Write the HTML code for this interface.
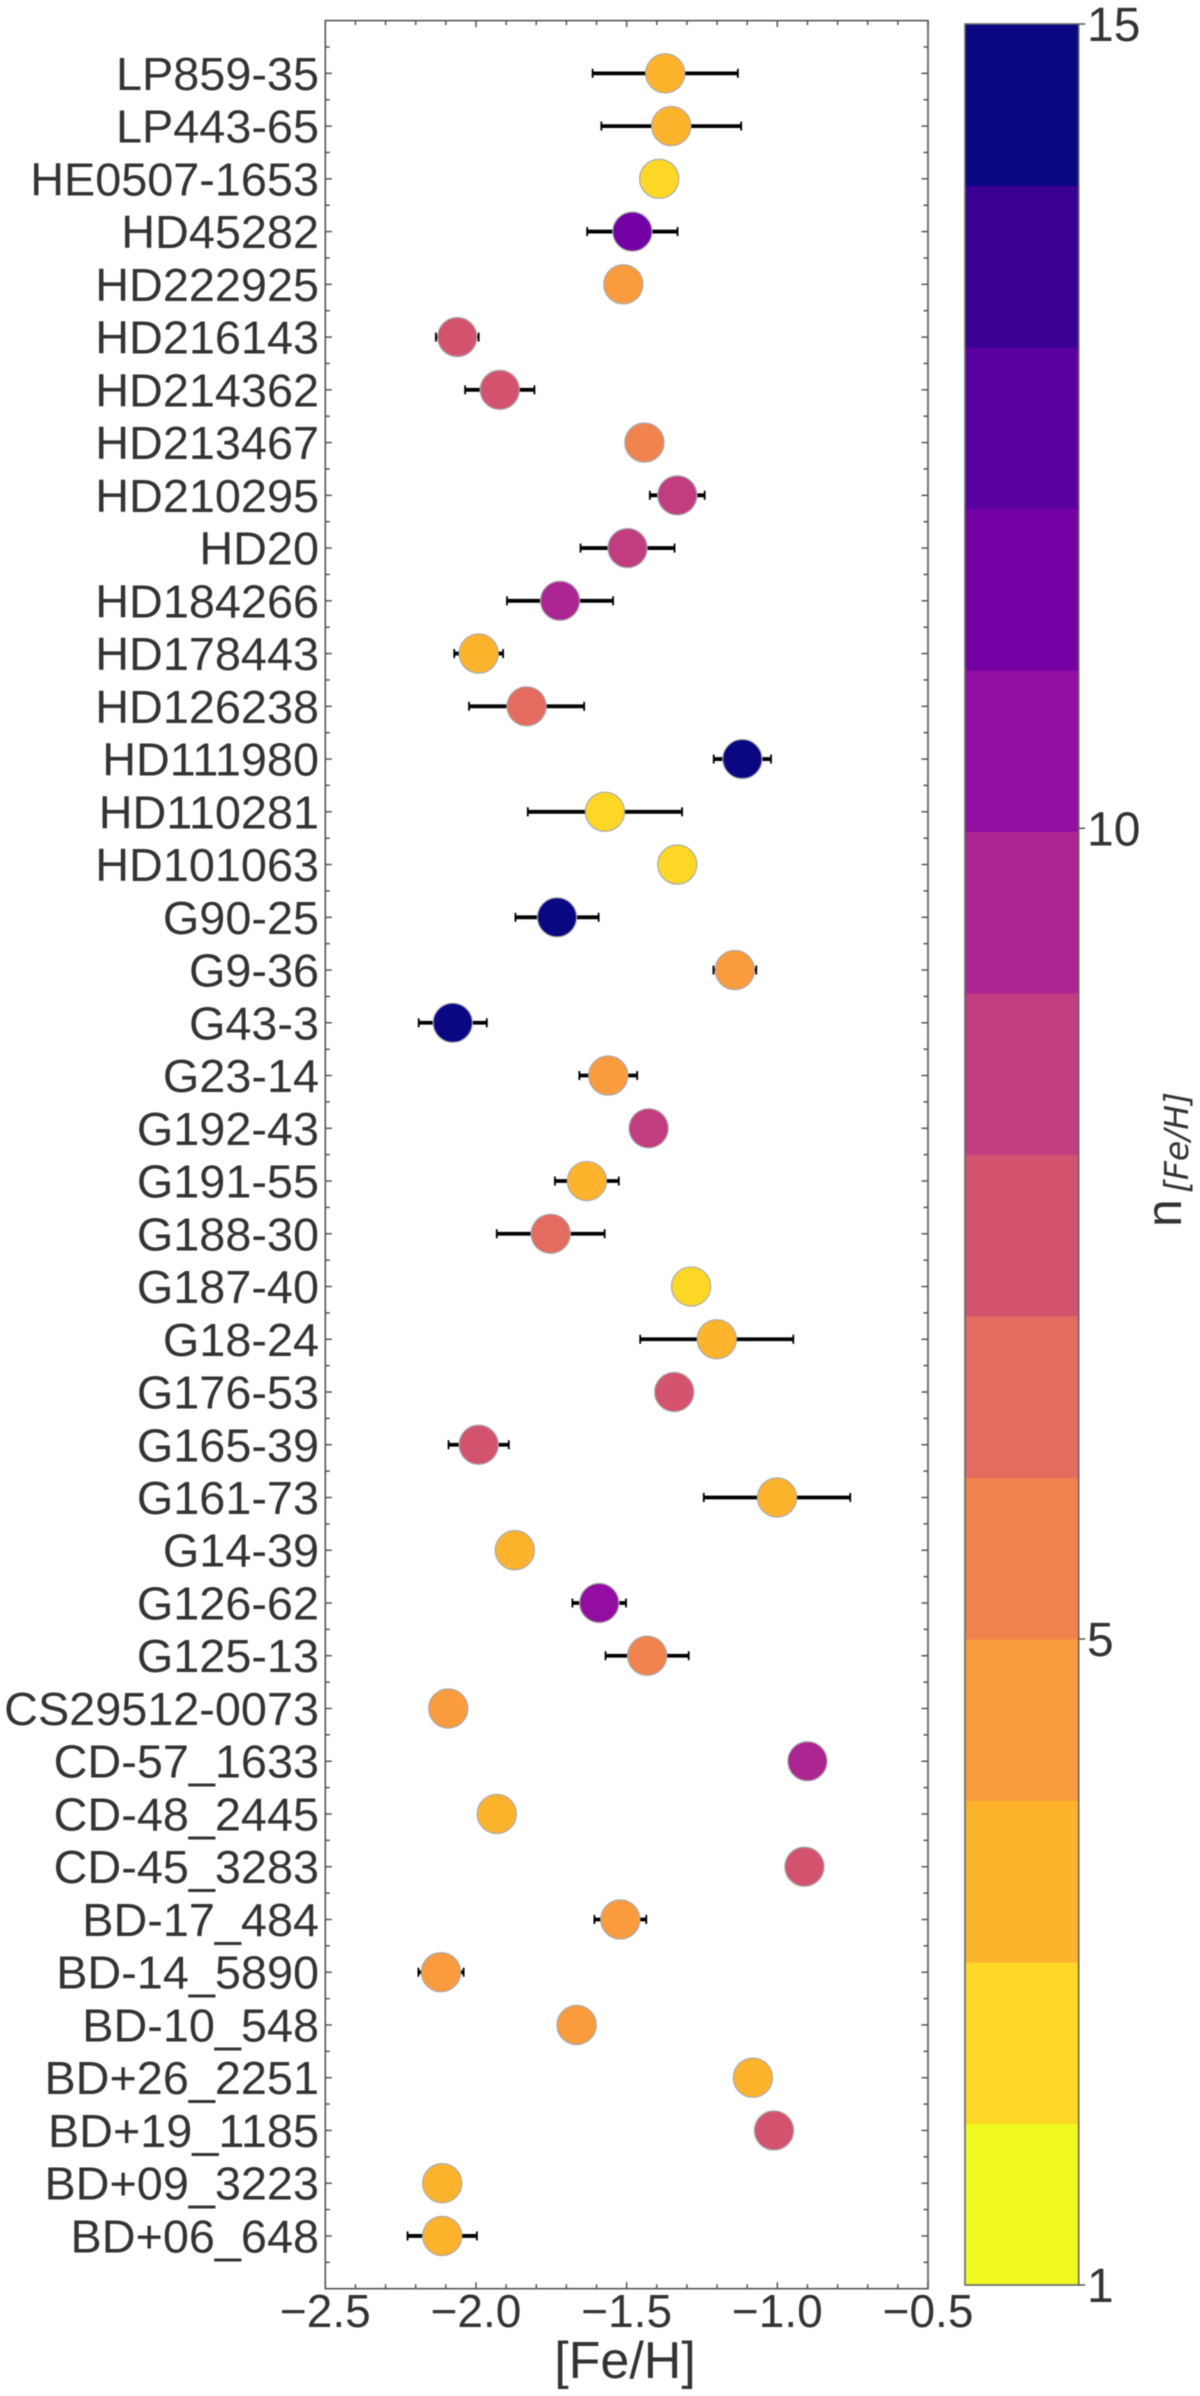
<!DOCTYPE html>
<html lang="en">
<head>
<meta charset="utf-8">
<title>[Fe/H] by star</title>
<style>
  html, body { margin: 0; padding: 0; background: #fff; width: 1200px; height: 2396px; overflow: hidden; }
  svg { display: block; filter: blur(0.5px); }
  text { font-family: "Liberation Sans", Arial, sans-serif; fill: #333; }
</style>
</head>
<body>
<svg id="chart" xmlns="http://www.w3.org/2000/svg" width="1200" height="2396" viewBox="0 0 1200 2396">
  <rect x="0" y="0" width="1200" height="2396" fill="#fff"/>
  <g id="plot-grid"></g>
  <g id="y-labels"></g>
  <g id="x-labels"></g>
  <g id="marks"></g>
  <rect x="325.3" y="20.6" width="602.7" height="2268.1" fill="none" stroke="#555" stroke-width="1.6"/>
  <text x="625" y="2378" text-anchor="middle" font-size="52">[Fe/H]</text>
  <g id="colorbar"></g>
  <text transform="translate(1181 1227) rotate(-90)" x="0" y="0" font-size="50">n</text>
  <text transform="translate(1188 1193) rotate(-90)" x="0" y="0" font-size="33" font-style="italic" style="font-family:'DejaVu Sans',sans-serif">[Fe/H]</text>
</svg>
<script>
const starNames = ["LP859-35","LP443-65","HE0507-1653","HD45282","HD222925","HD216143","HD214362","HD213467","HD210295","HD20","HD184266","HD178443","HD126238","HD111980","HD110281","HD101063","G90-25","G9-36","G43-3","G23-14","G192-43","G191-55","G188-30","G187-40","G18-24","G176-53","G165-39","G161-73","G14-39","G126-62","G125-13","CS29512-0073","CD-57_1633","CD-48_2445","CD-45_3283","BD-17_484","BD-14_5890","BD-10_548","BD+26_2251","BD+19_1185","BD+09_3223","BD+06_648"];
const feH = [-1.372,-1.352,-1.392,-1.481,-1.511,-2.062,-1.921,-1.441,-1.332,-1.497,-1.721,-1.991,-1.832,-1.116,-1.572,-1.332,-1.731,-1.141,-2.077,-1.561,-1.427,-1.632,-1.752,-1.286,-1.201,-1.342,-1.991,-1.001,-1.871,-1.591,-1.432,-2.092,-0.900,-1.931,-0.910,-1.521,-2.116,-1.666,-1.081,-1.011,-2.112,-2.112];
const feHErr = [0.241,0.232,0,0.150,0,0.071,0.115,0,0.091,0.156,0.176,0.081,0.191,0.095,0.256,0,0.138,0.071,0.113,0.096,0,0.106,0.179,0,0.254,0,0.100,0.243,0,0.089,0.138,0,0,0,0,0.086,0.075,0,0,0,0,0.115];
const nFeH = [3,3,2,11,4,7,7,5,8,8,9,3,6,15,2,2,15,4,15,4,8,3,6,2,3,7,7,3,3,10,5,4,9,3,7,4,4,4,3,7,3,3];
const xTickValues = [-2.5,-2.0,-1.5,-1.0,-0.5];
const xTickLabels = ["\u22122.5","\u22122.0","\u22121.5","\u22121.0","\u22120.5"];
const colorbarTickValues = [1,5,10.02,15];
const colorbarTickLabels = ["1","5","10","15"];
const binColors = ["#f1fa20","#fcd725","#feb32c","#fa9b3e","#f1834e","#e36b5f","#d3536f","#c23d80","#ac2692","#920da0","#7300a3","#5a00a0","#390092","#0a0783"];

const NS = "http://www.w3.org/2000/svg";
const plot = { left: 325.3, right: 928, top: 20.6, bottom: 2288.7 };
const bar = { left: 965, right: 1078.7, top: 24, bottom: 2285 };
const xMin = -2.5, xMax = -0.5;
const yMax = starNames.length + 1;

function xScale(v) { return plot.left + (v - xMin) / (xMax - xMin) * (plot.right - plot.left); }
function yScale(v) { return plot.bottom - v / yMax * (plot.bottom - plot.top); }
function nScale(v) { return bar.bottom - (v - 1) / 14 * (bar.bottom - bar.top); }
function binColor(n) { return binColors[Math.min(Math.floor(n), binColors.length) - 1]; }

function make(parent, tag, attrs, txt) {
  const e = document.createElementNS(NS, tag);
  for (const k in attrs) e.setAttribute(k, attrs[k]);
  if (txt !== undefined) e.textContent = txt;
  parent.appendChild(e);
  return e;
}

const gridG = document.getElementById("plot-grid");
const yLabelG = document.getElementById("y-labels");
const xLabelG = document.getElementById("x-labels");
const marksG = document.getElementById("marks");
const barG = document.getElementById("colorbar");
const tickStyle = { stroke: "#555", "stroke-width": 1.5 };

// X ticks (major every 0.5, minor every 0.1), bottom and top
for (let i = 0; i <= 20; i++) {
  const v = xMin + i * 0.1;
  const px = xScale(v);
  const len = i % 5 === 0 ? 6.5 : 4.5;
  const b = make(gridG, "line", Object.assign({ x1: px, x2: px, y1: plot.bottom, y2: plot.bottom - len }, tickStyle));
  
  
  const t = make(gridG, "line", Object.assign({ x1: px, x2: px, y1: plot.top, y2: plot.top + len }, tickStyle));
  
  
}

// Y ticks (major on each star, minor between), left and right
for (let i = 1; i < yMax * 2; i++) {
  const v = i / 2;
  const py = yScale(v);
  const len = i % 2 === 0 ? 6.5 : 4.5;
  const l = make(gridG, "line", Object.assign({ x1: plot.left, x2: plot.left + len, y1: py, y2: py }, tickStyle));
  
  
  const r = make(gridG, "line", Object.assign({ x1: plot.right, x2: plot.right - len, y1: py, y2: py }, tickStyle));
  
  
}

// X tick labels
xTickValues.forEach(function (v, i) {
  const t = make(xLabelG, "text", { x: xScale(v), y: 2327, "text-anchor": "middle", "font-size": 46 }, xTickLabels[i]);
  
  
});

// Stars
starNames.forEach(function (name, i) {
  const py = yScale(starNames.length - i);
  const lab = make(yLabelG, "text", { x: 319, y: py + 16.5, "text-anchor": "end", "font-size": 46.8 }, name);
  
  

  const cx = xScale(feH[i]);
  if (feHErr[i] > 0) {
    const x0 = xScale(feH[i] - feHErr[i]);
    const x1 = xScale(feH[i] + feHErr[i]);
    const ln = make(marksG, "line", { x1: x0, x2: x1, y1: py, y2: py, stroke: "#000", "stroke-width": 3.8 });
    
    
    const c0 = make(marksG, "line", { x1: x0, x2: x0, y1: py - 4.5, y2: py + 4.5, stroke: "#000", "stroke-width": 1.8 });
    
    
    const c1 = make(marksG, "line", { x1: x1, x2: x1, y1: py - 4.5, y2: py + 4.5, stroke: "#000", "stroke-width": 1.8 });
    
    
  }
  const dot = make(marksG, "circle", { cx: cx, cy: py, r: 19.6, fill: binColor(nFeH[i]), stroke: "#aaaaaa", "stroke-width": 1.2 });
  
  
});

// Colorbar segments
binColors.forEach(function (col, i) {
  const yTop = nScale(i + 2);
  const yBot = nScale(i + 1);
  const seg = make(barG, "rect", { x: bar.left, y: yTop, width: bar.right - bar.left, height: yBot - yTop + 0.5, fill: col });
  
  
});
const frame = make(barG, "rect", { x: bar.left, y: bar.top, width: bar.right - bar.left, height: bar.bottom - bar.top, fill: "none", stroke: "#666", "stroke-width": 1.6 });



colorbarTickValues.forEach(function (v, i) {
  const py = nScale(v);
  const tk = make(barG, "line", Object.assign({ x1: bar.right, x2: bar.right + 6.5, y1: py, y2: py }, tickStyle));
  
  
  const lb = make(barG, "text", { x: 1087, y: py + 17, "font-size": 48 }, colorbarTickLabels[i]);
  
  
});
</script>
</body>
</html>
